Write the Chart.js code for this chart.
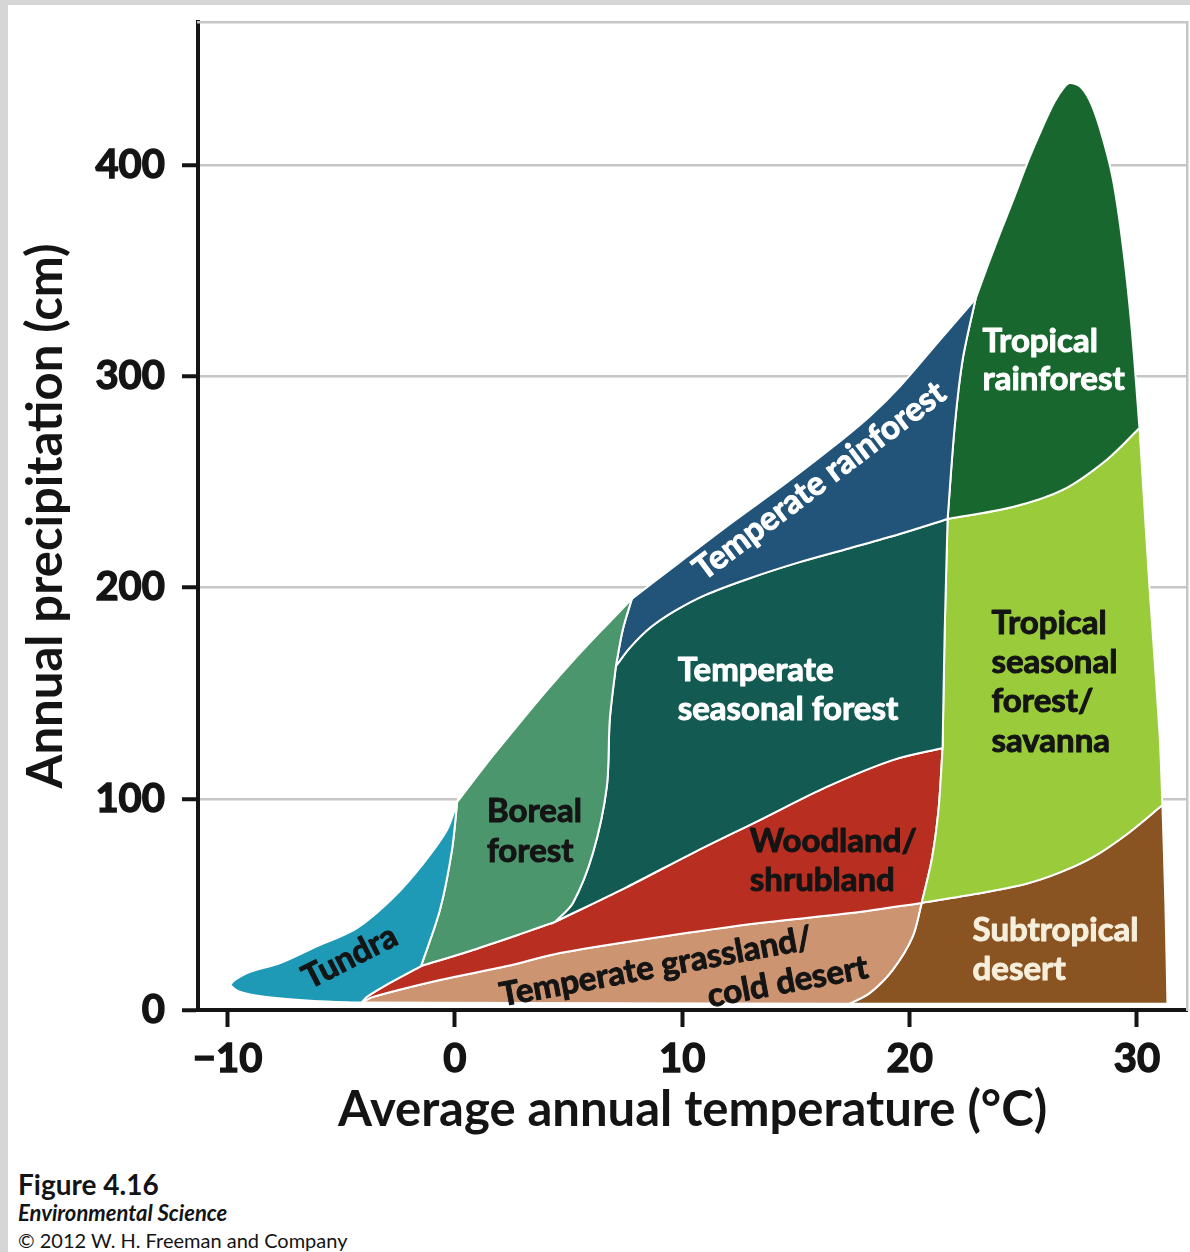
<!DOCTYPE html>
<html>
<head>
<meta charset="utf-8">
<script src="https://cdn.jsdelivr.net/npm/chart.js@4.4.1/dist/chart.umd.min.js"></script>
<style>
html,body{margin:0;padding:0;}
body{width:1190px;height:1252px;background:#d6d6d6;position:relative;overflow:hidden;font-family:Lato,"Open Sans",sans-serif;}
#panel{position:absolute;left:8px;top:5px;right:0;bottom:0;background:#fff;}
#chart{position:absolute;left:0;top:0;}
.foot{position:absolute;left:18px;white-space:nowrap;color:#141414;line-height:1;}
#f1{top:1170px;font-size:28px;font-weight:700;}
#f2{top:1202px;font-size:22px;font-weight:700;font-style:italic;}
#f3{top:1230px;font-size:20px;font-weight:400;}
</style>
</head>
<body>
<div id="panel"></div>
<canvas id="chart" width="1190" height="1160"></canvas>
<div class="foot" id="f1">Figure 4.16</div>
<div class="foot" id="f2">Environmental Science</div>
<div class="foot" id="f3">© 2012 W. H. Freeman and Company</div>
<script>
// ---------- axis ticks ----------
const xTickValues = [-10, 0, 10, 20, 30];
const yTickValues = [0, 100, 200, 300, 400];

// ---------- biome names ----------
const biomeNames = ['Tundra', 'Boreal forest', 'Temperate rainforest', 'Tropical rainforest',
  'Temperate seasonal forest', 'Tropical seasonal forest/savanna', 'Woodland/shrubland',
  'Temperate grassland/cold desert', 'Subtropical desert'];

// ---------- boundary curves: [temperature °C, precipitation cm] ----------
const edgeTundraOuter = [[-4.1,3.5],[-6.2,4.3],[-8.3,6.2],[-9.5,8.8],[-9.85,12.3],[-9.14,17.5],[-7.69,22.2],[-6.24,29.3],[-4.31,38.8],[-2.73,53.0],[-1.41,69.1],[-0.35,85.2],[0.1,98.5]];
const edgeTundraBoreal = [[0.1,98.5],[-0.13,75.7],[-0.66,47.3],[-1.49,20.8]];
const edgeTundraRed = [[-1.49,20.8],[-2.86,12.8],[-3.87,6.2],[-4.1,3.5]];
const edgeBorealOuter = [[0.1,98.5],[1.32,115.6],[2.64,133.1],[3.96,150.2],[5.27,166.2],[6.59,181.3],[7.78,194.6]];
const edgeBorealBlue = [[7.78,194.6],[7.38,179.9],[7.08,162.8]];
const edgeBorealSeasonal = [[7.08,162.8],[6.81,137.3],[6.68,105.6],[6.07,74.3],[5.19,50.7],[4.4,41.7]];
const edgeBorealRed = [[4.4,41.7],[2.99,36.4],[0.79,28.4],[-1.49,20.8]];
const edgeBlueOuter = [[7.78,194.6],[9.89,212],[12.22,231],[14.51,249],[16.62,266.5],[18.24,281],[19.56,295],[21.32,317],[22.9,336.6]];
const edgeBlueTropical = [[22.9,336.6],[22.33,307.7],[21.98,276],[21.67,232.4]];
const edgeBlueSeasonal = [[21.67,232.4],[19.56,225.3],[17.36,218.6],[15.16,212],[12.97,204.4],[11.0,196.4],[9.67,188.9],[8.57,180.8],[7.69,171.4],[7.08,162.8]];
const edgeTropicalOuter = [[22.9,336.6],[23.43,352.2],[24.0,368.3],[24.62,385.3],[25.23,402.4],[25.85,418],[26.37,429.8],[26.77,436.4],[27.03,438.8],[27.47,437.4],[27.91,430.8],[28.35,418],[28.92,394.3],[29.36,363.1],[29.76,323.3],[30.11,275.5]];
const edgeSavannaTropical = [[30.11,275.5],[28.66,260.4],[26.73,246.2],[24.53,238.1],[21.67,232.4]];
const edgeSavannaOuter = [[30.11,275.5],[30.55,200.2],[30.99,131.1],[31.12,97]];
const edgeDesertSavanna = [[31.12,97],[29.54,83.1],[28.04,72.2],[26.59,65],[25.14,59.8],[22.95,55],[20.53,50.7]];
const edgeSavannaRed = [[20.53,50.7],[20.97,71],[21.27,94.7],[21.45,124]];
const edgeSavannaSeasonal = [[21.45,124],[21.54,178.5],[21.67,232.4]];
const edgeRedSeasonal = [[21.45,124],[19.25,118.3],[16.35,105.6],[13.41,89.9],[10.46,74.3],[7.56,58.2],[4.4,41.7]];
const edgeRedGrass = [[20.53,50.7],[17.8,46.4],[13.41,41.2],[9.01,34.6],[4.62,27],[2.29,20.8],[-0.66,14.2],[-3.6,6.2],[-4.1,3.5]];
const edgeGrassDesert = [[20.53,50.7],[20.13,34.6],[19.25,18.9],[18.24,8],[17.36,3]];
const edgeGrassBottom = [[17.36,3],[-4.1,3.5]];
const edgeDesertOuter = [[31.12,97],[31.25,50],[31.34,3]];
const edgeDesertBottom = [[31.34,3],[17.36,3]];

// ---------- build closed regions from the boundary curves ----------
const rev = a => a.slice().reverse();
const ring = (...parts) => [].concat(...parts).map(p => ({x: p[0], y: p[1]}));

const regions = [
  ring(edgeTundraOuter, edgeTundraBoreal, edgeTundraRed),
  ring(edgeBorealOuter, edgeBorealBlue, edgeBorealSeasonal, edgeBorealRed, rev(edgeTundraBoreal)),
  ring(edgeBlueOuter, edgeBlueTropical, edgeBlueSeasonal, rev(edgeBorealBlue)),
  ring(edgeTropicalOuter, edgeSavannaTropical, rev(edgeBlueTropical)),
  ring(rev(edgeBlueSeasonal), rev(edgeSavannaSeasonal), edgeRedSeasonal, rev(edgeBorealSeasonal)),
  ring(rev(edgeSavannaTropical), edgeSavannaOuter, edgeDesertSavanna, edgeSavannaRed, edgeSavannaSeasonal),
  ring(rev(edgeTundraRed), rev(edgeBorealRed), rev(edgeRedSeasonal), rev(edgeSavannaRed), edgeRedGrass),
  ring(rev(edgeRedGrass), edgeGrassDesert, edgeGrassBottom),
  ring(rev(edgeGrassDesert), rev(edgeDesertSavanna), edgeDesertOuter, edgeDesertBottom)
];

const regionColors = ['#1f9ab6', '#4c966d', '#225379', '#18672f', '#135a53', '#9acb3b', '#b82f21', '#cc9471', '#8a5322'];

// ---------- label layout (data-space anchors) ----------
const labelLayout = [
  {lines: ['Tundra'], x: -4.62, y: 25.1, rot: -27, align: 'center', color: '#141414', lh: 0},
  {lines: ['Boreal', 'forest'], x: 1.41, y: 94.2, rot: 0, align: 'left', color: '#141414', lh: 40},
  {lines: ['Temperate', 'seasonal forest'], x: 9.8, y: 160.9, rot: 0, align: 'left', color: '#ffffff', lh: 39},
  {lines: ['Temperate rainforest'], x: 16.04, y: 250.4, rot: -37, align: 'center', color: '#ffffff', lh: 0},
  {lines: ['Tropical', 'rainforest'], x: 23.21, y: 316.7, rot: 0, align: 'left', color: '#ffffff', lh: 38},
  {lines: ['Tropical', 'seasonal', 'forest/', 'savanna'], x: 23.6, y: 183.2, rot: 0, align: 'left', color: '#141414', lh: 39.3},
  {lines: ['Woodland/', 'shrubland'], x: 12.97, y: 80, rot: 0, align: 'left', color: '#141414', lh: 39},
  {lines: ['Temperate grassland/'], x: 8.84, y: 20.4, rot: -10.5, align: 'center', color: '#141414', lh: 0},
  {lines: ['cold desert'], x: 14.64, y: 13.3, rot: -10.5, align: 'center', color: '#141414', lh: 0},
  {lines: ['Subtropical', 'desert'], x: 22.77, y: 37.9, rot: 0, align: 'left', color: '#f6efdc', lh: 39}
];

const biomeLabelPlugin = {
  id: 'biomeLabels',
  afterDatasetsDraw(chart) {
    const {ctx, scales} = chart;
    ctx.save();
    ctx.font = '700 33px Lato';
    ctx.lineWidth = 1;
    ctx.lineJoin = 'round';
    labelLayout.forEach(l => {
      const px = scales.x.getPixelForValue(l.x);
      const py = scales.y.getPixelForValue(l.y);
      ctx.save();
      ctx.translate(px, py);
      ctx.rotate(l.rot * Math.PI / 180);
      ctx.fillStyle = l.color;
      ctx.strokeStyle = l.color;
      ctx.textAlign = l.align;
      ctx.textBaseline = 'middle';
      l.lines.forEach((t, i) => { ctx.strokeText(t, 0, i * l.lh); ctx.fillText(t, 0, i * l.lh); });
      ctx.restore();
    });
    ctx.restore();
  }
};

const tickFont = {family: 'Lato', size: 40, weight: '700'};
const titleFont = {family: 'Lato', size: 49, weight: '700'};
const noPad = s => { s.paddingTop = 0; s.paddingBottom = 0; s.paddingLeft = 0; s.paddingRight = 0; };

new Chart(document.getElementById('chart'), {
  type: 'scatter',
  data: {
    datasets: regions.map((pts, i) => ({
      label: biomeNames[i],
      data: pts,
      showLine: true,
      fill: 'shape',
      backgroundColor: regionColors[i],
      borderColor: '#ffffff',
      borderWidth: 2,
      tension: 0.3,
      pointRadius: 0,
      pointHoverRadius: 0
    }))
  },
  options: {
    responsive: false,
    animation: false,
    events: [],
    layout: {padding: {left: 0, top: 22, right: 3, bottom: 0}},
    plugins: {legend: {display: false}, tooltip: {enabled: false}},
    scales: {
      x: {
        type: 'linear', position: 'bottom', min: -11.3, max: 32.2,
        afterBuildTicks: s => { s.ticks = xTickValues.map(v => ({value: v})); },
        afterFit: s => { s.height = 150; noPad(s); },
        grid: {drawOnChartArea: false, drawTicks: true, tickLength: 17, tickColor: '#141414', tickWidth: 4},
        border: {display: true, color: '#141414', width: 4},
        ticks: {color: '#141414', font: tickFont, padding: 8, maxRotation: 0,
          textStrokeColor: '#141414', textStrokeWidth: 1.4,
          callback: v => v < 0 ? '\u2212' + Math.abs(v) : String(v)},
        title: {display: true, text: 'Average annual temperature (°C)', color: '#141414', font: titleFont, padding: {top: 0, bottom: 20}}
      },
      y: {
        type: 'linear', position: 'left', min: 0, max: 467.7,
        afterBuildTicks: s => { s.ticks = yTickValues.map(v => ({value: v})); },
        afterFit: s => { s.width = 198; noPad(s); },
        grid: {drawOnChartArea: true, drawTicks: true, tickLength: 16, tickColor: '#141414', tickWidth: 4,
          color: c => (c.tick && c.tick.value === 0) ? 'rgba(0,0,0,0)' : '#c6c6c6', lineWidth: 2.5},
        border: {display: true, color: '#141414', width: 4},
        ticks: {color: '#141414', font: tickFont, padding: 17, textStrokeColor: '#141414', textStrokeWidth: 1.4},
        title: {display: true, text: 'Annual precipitation (cm)', color: '#141414', font: titleFont, padding: {top: 17, bottom: 0}}
      },
      x2: {
        type: 'linear', position: 'top', min: 0, max: 1,
        afterFit: s => { s.height = 0; noPad(s); },
        grid: {display: false}, ticks: {display: false},
        border: {display: true, color: '#c6c6c6', width: 2.5}
      },
      y2: {
        type: 'linear', position: 'right', min: 0, max: 1,
        afterFit: s => { s.width = 0; noPad(s); },
        grid: {display: false}, ticks: {display: false},
        border: {display: true, color: '#c6c6c6', width: 2.5}
      }
    }
  },
  plugins: [biomeLabelPlugin]
});
</script>
</body>
</html>
